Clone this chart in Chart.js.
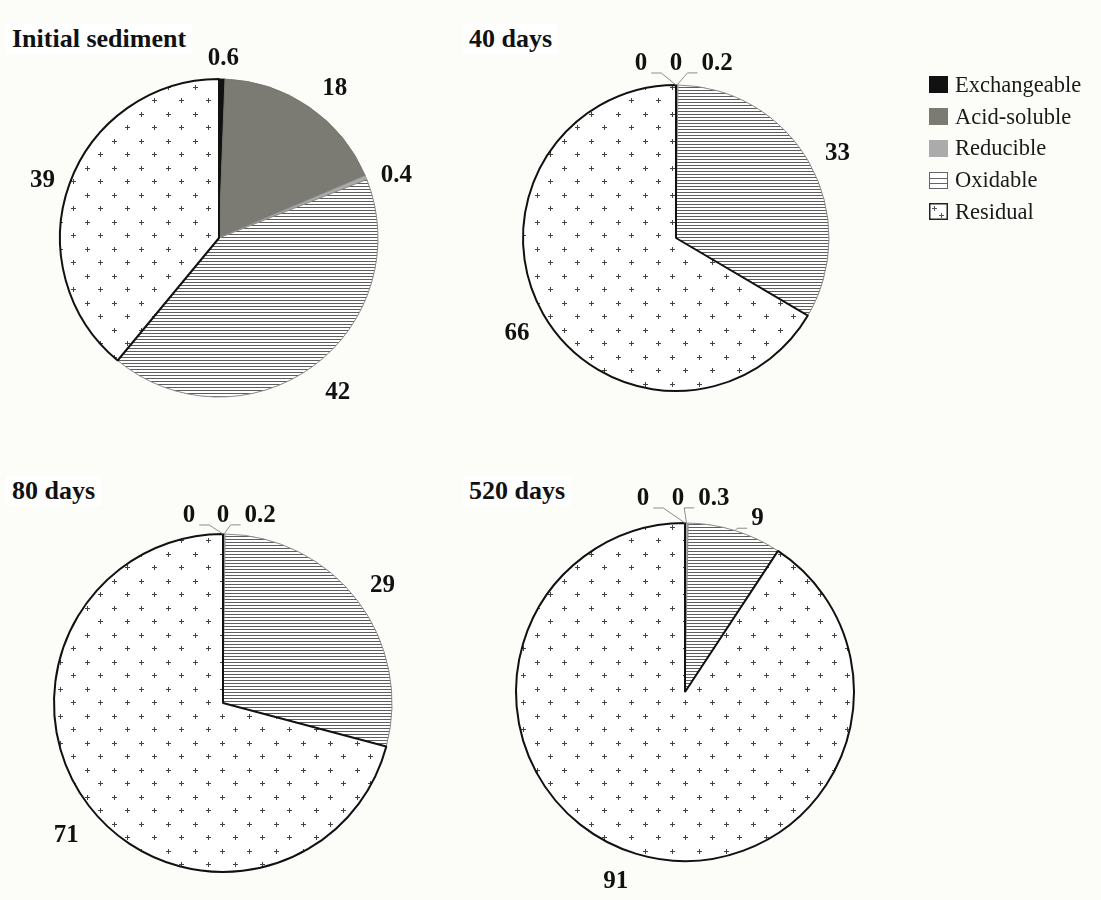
<!DOCTYPE html>
<html>
<head>
<meta charset="utf-8">
<title>Fractions in sediment</title>
<script src="https://cdn.jsdelivr.net/npm/chart.js@4.4.0/dist/chart.umd.min.js"></script>
<style>
    body { margin: 0; background: #fcfcf8; }
    #wrap { position: relative; width: 1101px; height: 900px; overflow: hidden; }
    .pie { position: absolute; }
    .title {
        position: absolute;
        font: bold 26px "Liberation Serif", "Times New Roman", serif;
        line-height: 30px;
        color: #111;
        background: #fff;
        padding: 0 6px;
    }
    #legend {
        position: absolute; left: 929px; top: 69px;
        font: 22.5px "Liberation Serif", "Times New Roman", serif;
        color: #1a1a1a;
    }
    .row { display: flex; align-items: center; height: 31.75px; }
    .row canvas { margin-right: 7px; }
</style>
</head>
<body>
<div id="wrap">
    <div id="legend"></div>
</div>
<script>
// Data (%)
const fractions = ['Exchangeable', 'Acid-soluble', 'Reducible', 'Oxidable', 'Residual'];
const panelTitles = ['Initial sediment', '40 days', '80 days', '520 days'];
const initialValues = [0.6, 18, 0.4, 42, 39];
const day40Values = [0, 0, 0.2, 33, 66];
const day80Values = [0, 0, 0.2, 29, 71];
const day520Values = [0, 0, 0.3, 9, 91];

// Layout: canvas box [left, top, width, height], pie centre / radius, title spot,
// label nudges and which labels get a leader line
const panels = [
    { values: initialValues, box: [0, 0, 450, 440], cx: 219, cy: 238, r: 159, title: [6, 24],
      nudge: [[1, 1], [9, 3], [0, 8], [8, 0], [1, 4]], leaders: [false, false, false, false, false] },
    { values: day40Values, box: [450, 0, 450, 440], cx: 676, cy: 238, r: 153, title: [463, 24],
      nudge: [[-35, 0], [0, 0], [40, 0], [2, 3], [0, 3]], leaders: [true, false, true, false, false] },
    { values: day80Values, box: [0, 440, 450, 460], cx: 223, cy: 703, r: 169, title: [6, 476],
      nudge: [[-34, 3], [0, 3], [36, 3], [1, 1], [1, 9]], leaders: [true, false, true, false, false] },
    { values: day520Values, box: [450, 440, 450, 460], cx: 685, cy: 692, r: 169, title: [463, 476],
      nudge: [[-42, -3], [-7, -3], [27, -3], [15, 10], [-13, 0]], leaders: [true, false, true, true, false] }
];

const labelFont = 'bold 25px "Liberation Serif", "Times New Roman", serif';
const capH = 17;
const gap = 15;

function stripePattern() {
    const c = document.createElement('canvas');
    c.width = 8; c.height = 3;
    const g = c.getContext('2d');
    g.fillStyle = '#ffffff';
    g.fillRect(0, 0, 8, 3);
    g.fillStyle = '#5e5e5e';
    g.fillRect(0, 0, 8, 1);
    return g.createPattern(c, 'repeat');
}

function plusPattern() {
    const c = document.createElement('canvas');
    c.width = 27; c.height = 27;
    const g = c.getContext('2d');
    g.fillStyle = '#ffffff';
    g.fillRect(0, 0, 27, 27);
    g.fillStyle = '#444444';
    [[6, 6], [19, 19]].forEach(function(p) {
        g.fillRect(p[0] - 2, p[1], 5, 1);
        g.fillRect(p[0], p[1] - 2, 1, 5);
    });
    return g.createPattern(c, 'repeat');
}

const fills = ['#111111', '#7b7b73', '#ababab', stripePattern(), plusPattern()];
const edges = ['#111111', '#77776f', '#9a9a9a', '#8a8a8a', '#111111'];
const edgeWidths = [1, 1, 1, 1, 2];

// Value labels outside the slices, with Excel-like leader lines
const sliceLabels = {
    id: 'sliceLabels',
    afterDatasetsDraw(chart, args, opts) {
        const ctx = chart.ctx;
        const meta = chart.getDatasetMeta(0);
        const values = chart.data.datasets[0].data;
        ctx.save();
        ctx.font = labelFont;
        ctx.textAlign = 'center';
        ctx.textBaseline = 'alphabetic';
        meta.data.forEach(function(arc, i) {
            const p = arc.getProps(['x', 'y', 'startAngle', 'endAngle', 'outerRadius'], true);
            const mid = (p.startAngle + p.endAngle) / 2;
            const ux = Math.cos(mid), uy = Math.sin(mid);
            const text = String(values[i]);
            const w = ctx.measureText(text).width;
            const half = Math.abs(ux) * w / 2 + Math.abs(uy) * capH / 2;
            const d = p.outerRadius + gap + half;
            const n = opts.nudge[i];
            const lx = p.x + ux * d + n[0];
            const ly = p.y + uy * d + n[1];

            if (opts.leaders[i]) {
                const px = p.x + ux * p.outerRadius;
                const py = p.y + uy * p.outerRadius;
                const by = ly + capH / 2 + 3;
                let x1, x2;
                if (lx < px) {
                    x1 = lx + w / 2 + 4; x2 = x1 + 10;
                } else {
                    x1 = lx - w / 2 - 4; x2 = x1 - 10;
                }
                ctx.strokeStyle = '#8c8c8c';
                ctx.lineWidth = 1;
                ctx.beginPath();
                ctx.moveTo(x1, by);
                ctx.lineTo(x2, by);
                ctx.lineTo(px, py);
                ctx.stroke();
            }
            ctx.fillStyle = '#111';
            ctx.fillText(text, lx, ly + capH / 2);
        });
        ctx.restore();
    }
};

const wrap = document.getElementById('wrap');

panels.forEach(function(panel, k) {
    const [left, top, w, h] = panel.box;
    const canvas = document.createElement('canvas');
    canvas.className = 'pie';
    canvas.width = w;
    canvas.height = h;
    canvas.style.left = left + 'px';
    canvas.style.top = top + 'px';
    canvas.style.width = w + 'px';
    canvas.style.height = h + 'px';
    wrap.appendChild(canvas);

    new Chart(canvas.getContext('2d'), {
        type: 'pie',
        data: {
            labels: fractions,
            datasets: [{
                data: panel.values,
                backgroundColor: fills,
                borderColor: edges,
                borderWidth: edgeWidths
            }]
        },
        options: {
            responsive: false,
            animation: false,
            radius: panel.r,
            layout: {
                padding: {
                    left: panel.cx - panel.r - left,
                    top: panel.cy - panel.r - top,
                    right: left + w - panel.cx - panel.r,
                    bottom: top + h - panel.cy - panel.r
                }
            },
            plugins: {
                legend: { display: false },
                tooltip: { enabled: false },
                sliceLabels: { nudge: panel.nudge, leaders: panel.leaders }
            }
        },
        plugins: [sliceLabels]
    });

    const t = document.createElement('div');
    t.className = 'title';
    t.textContent = panelTitles[k];
    t.style.left = panel.title[0] + 'px';
    t.style.top = panel.title[1] + 'px';
    wrap.appendChild(t);
});

// Shared legend on the right
function drawIcon(g, i) {
    if (i < 3) {
        g.fillStyle = fills[i];
        g.fillRect(0, 0, 19, 17);
        return;
    }
    g.fillStyle = '#fff';
    g.fillRect(0, 0, 19, 17);
    if (i === 3) {
        g.strokeStyle = '#666';
        g.lineWidth = 1;
        g.strokeRect(0.5, 0.5, 18, 16);
        g.beginPath();
        g.moveTo(0, 6.5); g.lineTo(19, 6.5);
        g.moveTo(0, 11.5); g.lineTo(19, 11.5);
        g.stroke();
    } else {
        g.strokeStyle = '#222';
        g.lineWidth = 1.5;
        g.strokeRect(0.75, 0.75, 17.5, 15.5);
        g.fillStyle = '#555';
        [[5, 5], [12, 12]].forEach(function(p) {
            g.fillRect(p[0] - 2, p[1], 5, 1);
            g.fillRect(p[0], p[1] - 2, 1, 5);
        });
    }
}

const legend = document.getElementById('legend');
fractions.forEach(function(name, i) {
    const row = document.createElement('div');
    row.className = 'row';
    const icon = document.createElement('canvas');
    icon.width = 19; icon.height = 17;
    drawIcon(icon.getContext('2d'), i);
    const label = document.createElement('span');
    label.textContent = name;
    row.appendChild(icon);
    row.appendChild(label);
    legend.appendChild(row);
});
</script>
</body>
</html>
